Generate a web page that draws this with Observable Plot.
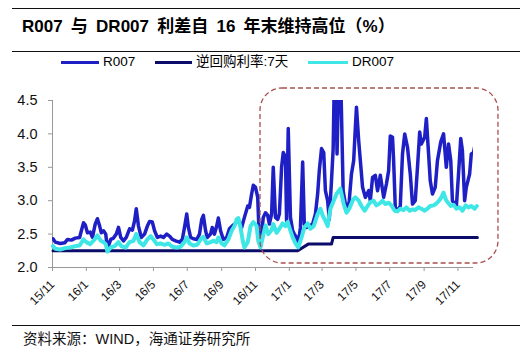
<!DOCTYPE html>
<html><head><meta charset="utf-8">
<script src="https://cdn.jsdelivr.net/npm/d3@7"></script>
<script src="https://cdn.jsdelivr.net/npm/@observablehq/plot@0.6"></script>
<style>
body{margin:0;background:#fff;}
#wrap{position:relative;width:527px;height:357px;overflow:hidden;background:#fff;font-family:"Liberation Sans",Arial,"Noto Sans CJK SC",sans-serif;color:#000;}
.rule{position:absolute;left:12px;width:508px;height:1px;background:#111;}
#title{position:absolute;left:22px;top:17.6px;font-size:17px;font-weight:bold;line-height:17px;white-space:nowrap;word-spacing:3.5px;}
.legline{position:absolute;top:61px;height:3px;}
.legtext{position:absolute;top:55.3px;font-size:13.5px;line-height:13.5px;white-space:nowrap;}
#source{position:absolute;left:23px;top:331.7px;font-size:14.5px;line-height:14.5px;white-space:nowrap;color:#111;}
#chart{position:absolute;left:0;top:80px;}
#chart svg{overflow:visible;}
#chart g[aria-label="y-axis tick label"] text, #chart g[aria-label="y-axis tick label"]{font-size:14.5px !important;}
#chart g[aria-label="x-axis tick label"] text, #chart g[aria-label="x-axis tick label"]{font-size:12px !important;}
#chart g[aria-label="x-axis tick"], #chart g[aria-label="y-axis tick"]{stroke:#999;}
</style>
</head><body>
<div id="wrap">
  <div class="rule" style="top:8px"></div>
  <div id="title">R007 与 DR007 利差自 16 年末维持高位（%）</div>
  <div class="rule" style="top:51px"></div>
  <div id="legend"></div>
  <div id="chart"></div>
  <div class="rule" style="top:325px"></div>
  <div id="source">资料来源：WIND，海通证券研究所</div>
</div>
<script>
const seriesNames = ["R007", "逆回购利率:7天", "DR007"];
const seriesColors = ["#1f1fc6", "#0b0b6a", "#3ee6e6"];

const r007Dates = ["2015-11-02","2015-11-06","2015-11-15","2015-11-23","2015-11-28","2015-12-05","2015-12-12","2015-12-20","2015-12-23","2015-12-27","2015-12-30",
"2016-01-03","2016-01-08","2016-01-12","2016-01-17","2016-01-21","2016-01-25","2016-01-28","2016-02-01","2016-02-05","2016-02-08","2016-02-14","2016-02-19","2016-02-24","2016-02-28",
"2016-03-03","2016-03-08","2016-03-13","2016-03-19","2016-03-24","2016-03-28","2016-03-31","2016-04-04","2016-04-09","2016-04-15","2016-04-20","2016-04-24","2016-04-29",
"2016-05-03","2016-05-08","2016-05-14","2016-05-19","2016-05-25","2016-05-30","2016-06-04","2016-06-10","2016-06-17","2016-06-22","2016-06-26","2016-06-30",
"2016-07-03","2016-07-07","2016-07-12","2016-07-18","2016-07-23","2016-07-27","2016-07-30","2016-08-03","2016-08-06","2016-08-12","2016-08-15","2016-08-19","2016-08-23","2016-08-26","2016-08-30",
"2016-09-04","2016-09-10","2016-09-15","2016-09-21","2016-09-26","2016-10-01","2016-10-07","2016-10-12","2016-10-18","2016-10-21","2016-10-25","2016-10-28",
"2016-11-01","2016-11-05","2016-11-08","2016-11-12","2016-11-15","2016-11-19","2016-11-23","2016-11-26","2016-11-30","2016-12-03","2016-12-07","2016-12-11","2016-12-14","2016-12-18","2016-12-21","2016-12-25","2016-12-27","2016-12-30",
"2017-01-03","2017-01-07","2017-01-10","2017-01-14","2017-01-17","2017-01-21","2017-01-25","2017-01-28","2017-02-01","2017-02-06","2017-02-12","2017-02-17","2017-02-21","2017-02-24","2017-02-28",
"2017-03-04","2017-03-07","2017-03-11","2017-03-14","2017-03-18","2017-03-21","2017-03-23","2017-03-26","2017-03-28","2017-03-31","2017-04-04","2017-04-08","2017-04-12","2017-04-16","2017-04-19","2017-04-23","2017-04-27","2017-04-30",
"2017-05-02","2017-05-06","2017-05-09","2017-05-13","2017-05-18","2017-05-24","2017-05-27","2017-05-31","2017-06-05","2017-06-09","2017-06-14","2017-06-20","2017-06-25","2017-06-29",
"2017-07-02","2017-07-06","2017-07-08","2017-07-11","2017-07-15","2017-07-20","2017-07-24","2017-07-28","2017-08-02","2017-08-07","2017-08-11","2017-08-16","2017-08-20","2017-08-24","2017-08-27",
"2017-09-02","2017-09-05","2017-09-09","2017-09-12","2017-09-16","2017-09-21","2017-09-25","2017-10-01","2017-10-06","2017-10-11","2017-10-15","2017-10-19","2017-10-22","2017-10-26","2017-10-29",
"2017-11-02","2017-11-06","2017-11-09","2017-11-13","2017-11-16","2017-11-22","2017-11-25","2017-11-29","2017-12-02","2017-12-04","2017-12-06"];
const r007Values = [2.43,2.38,2.36,2.37,2.42,2.41,2.44,2.45,2.55,2.67,2.64,
2.52,2.53,2.45,2.65,2.73,2.62,2.52,2.55,2.50,2.28,2.42,2.44,2.50,2.60,
2.45,2.40,2.45,2.58,2.56,2.70,2.88,2.62,2.45,2.50,2.62,2.69,2.68,
2.55,2.45,2.47,2.45,2.50,2.47,2.42,2.40,2.38,2.42,2.60,2.80,
2.60,2.45,2.43,2.42,2.50,2.72,2.78,2.55,2.45,2.50,2.60,2.50,2.62,2.74,2.55,
2.42,2.45,2.58,2.63,2.66,2.72,2.60,2.75,2.92,2.90,3.10,3.23,
3.20,3.05,2.38,2.50,2.75,2.82,2.78,2.65,2.80,3.50,2.75,2.72,2.80,3.50,3.72,3.65,2.70,4.08,
2.75,2.55,2.50,2.45,2.35,2.60,3.58,2.65,2.60,2.62,2.65,2.80,3.10,3.45,3.78,
3.72,3.15,3.00,2.72,3.30,3.78,4.80,4.60,3.70,4.80,4.70,3.15,2.95,2.85,3.00,3.40,3.60,4.10,
4.40,3.90,3.60,3.20,3.05,3.15,3.00,3.35,3.38,3.15,3.38,3.05,3.25,3.45,
3.97,3.95,3.60,2.90,2.85,2.92,3.70,4.00,3.80,3.40,2.95,3.00,3.50,4.03,3.85,
3.95,4.23,3.70,3.30,3.10,3.20,3.60,3.88,4.00,3.50,3.85,3.60,3.00,2.95,2.90,
3.40,3.93,3.75,3.00,3.20,3.40,3.70,3.72,3.85,4.03,3.70];

const dr007Dates = ["2015-11-02","2015-11-06","2015-11-15","2015-11-24","2015-12-03","2015-12-12","2015-12-20","2015-12-27",
"2016-01-01","2016-01-08","2016-01-16","2016-01-21","2016-01-27","2016-02-01","2016-02-05","2016-02-08","2016-02-14","2016-02-21","2016-02-28",
"2016-03-04","2016-03-12","2016-03-19","2016-03-26","2016-03-31","2016-04-06","2016-04-13","2016-04-20","2016-04-26",
"2016-05-01","2016-05-07","2016-05-14","2016-05-21","2016-05-28","2016-06-04","2016-06-12","2016-06-19","2016-06-26","2016-06-30",
"2016-07-05","2016-07-12","2016-07-19","2016-07-25","2016-07-30","2016-08-05","2016-08-12","2016-08-17","2016-08-23","2016-08-26",
"2016-09-01","2016-09-06","2016-09-13","2016-09-19","2016-09-24","2016-09-28","2016-10-01","2016-10-05","2016-10-09","2016-10-12","2016-10-18","2016-10-23","2016-10-28",
"2016-11-03","2016-11-06","2016-11-10","2016-11-14","2016-11-19","2016-11-24","2016-11-30","2016-12-03","2016-12-09","2016-12-14","2016-12-20","2016-12-25","2016-12-29",
"2017-01-03","2017-01-07","2017-01-12","2017-01-17","2017-01-23","2017-01-28","2017-02-03","2017-02-08","2017-02-14","2017-02-21","2017-02-26",
"2017-03-02","2017-03-07","2017-03-11","2017-03-16","2017-03-22","2017-03-27","2017-04-03","2017-04-09","2017-04-14","2017-04-19","2017-04-26","2017-04-30",
"2017-05-06","2017-05-11","2017-05-17","2017-05-22","2017-05-27","2017-06-02","2017-06-07","2017-06-13","2017-06-18","2017-06-23","2017-06-29",
"2017-07-04","2017-07-10","2017-07-15","2017-07-20","2017-07-26","2017-07-31","2017-08-06","2017-08-11","2017-08-16","2017-08-22","2017-08-27",
"2017-09-02","2017-09-07","2017-09-12","2017-09-18","2017-09-22","2017-09-28","2017-10-02","2017-10-06","2017-10-10","2017-10-13","2017-10-19","2017-10-24","2017-10-29",
"2017-11-04","2017-11-09","2017-11-15","2017-11-20","2017-11-25","2017-12-01","2017-12-05"];
const dr007Values = [2.32,2.28,2.27,2.29,2.30,2.32,2.33,2.42,
2.38,2.35,2.42,2.48,2.40,2.38,2.35,2.24,2.30,2.32,2.38,
2.32,2.30,2.38,2.40,2.50,2.38,2.33,2.42,2.47,
2.42,2.35,2.36,2.34,2.36,2.31,2.30,2.31,2.38,2.45,
2.36,2.33,2.34,2.42,2.46,2.36,2.38,2.40,2.38,2.45,
2.36,2.33,2.42,2.55,2.62,2.72,2.74,2.60,2.40,2.30,2.38,2.62,2.68,
2.62,2.40,2.30,2.45,2.63,2.50,2.56,2.65,2.52,2.58,2.66,2.62,2.68,
2.55,2.45,2.36,2.30,2.45,2.60,2.66,2.58,2.62,2.80,2.88,
2.78,2.70,2.62,2.88,3.00,3.10,3.18,2.95,2.82,2.88,3.02,3.05,
3.00,2.92,2.85,2.92,2.98,3.00,2.93,2.96,3.00,2.95,2.97,
2.93,2.85,2.84,2.88,2.86,2.90,2.85,2.87,2.86,2.90,2.88,
2.85,2.88,2.92,2.93,2.95,3.00,3.05,3.12,3.02,2.98,2.92,2.94,2.88,
2.90,2.85,2.93,2.90,2.92,2.88,2.92];

const repoDates = ["2015-11-02","2017-01-16","2017-02-04","2017-03-18","2017-03-21","2017-12-06"];
const repoValues = [2.25,2.25,2.35,2.35,2.45,2.45];

const xTickDates = ["2015-11-01","2016-01-01","2016-03-01","2016-05-01","2016-07-01","2016-09-01","2016-11-01","2017-01-01","2017-03-01","2017-05-01","2017-07-01","2017-09-01","2017-11-01"];
const yTickValues = [2.0, 2.5, 3.0, 3.5, 4.0, 4.5];
const xDomain = ["2015-11-01", "2017-11-29"];
const yDomain = [2.0, 4.5];

// highlighted period (dashed box)
const boxDates = ["2016-11-10", "2018-01-13"];
const boxValues = [2.06, 4.68];

const toRows = (dates, values) => dates.map((d, i) => ({date: new Date(d), value: values[i]}));
const r007 = toRows(r007Dates, r007Values);
const dr007 = toRows(dr007Dates, dr007Values);
const repo = toRows(repoDates, repoValues);
const box = [{x1: new Date(boxDates[0]), x2: new Date(boxDates[1]), y1: boxValues[0], y2: boxValues[1]}];

// legend
const legend = document.getElementById("legend");
const legPos = [[61, 103], [155, 196], [308, 352]];
seriesNames.forEach((name, i) => {
  const ln = document.createElement("div");
  ln.className = "legline";
  ln.style.left = legPos[i][0] + "px";
  ln.style.width = (legPos[i][1] - legPos[i][0] - 4) + "px";
  ln.style.background = seriesColors[i];
  legend.appendChild(ln);
  const tx = document.createElement("div");
  tx.className = "legtext";
  tx.style.left = legPos[i][1] + "px";
  tx.textContent = name;
  legend.appendChild(tx);
});

const chart = Plot.plot({
  width: 527,
  height: 245,
  marginLeft: 52,
  marginRight: 54,
  marginTop: 20,
  marginBottom: 58,
  style: {fontFamily: '"Liberation Sans", Arial, sans-serif', fontSize: "12px", color: "#111", background: "transparent", overflow: "visible"},
  x: {
    type: "utc",
    domain: xDomain.map(d => new Date(d)),
    ticks: xTickDates.map(d => new Date(d)),
    tickFormat: d => `${String(d.getUTCFullYear()).slice(2)}/${d.getUTCMonth() + 1}`,
    tickRotate: -45,
    tickSize: 4,
    tickPadding: 11,
    label: null
  },
  y: {
    domain: yDomain,
    ticks: yTickValues,
    tickFormat: d => d.toFixed(1),
    tickSize: 4,
    tickPadding: 11,
    label: null
  },
  marks: [
    Plot.ruleX([new Date(xDomain[0])], {stroke: "#999"}),
    Plot.ruleY([yDomain[0]], {stroke: "#999"}),
    Plot.line(r007, {x: "date", y: "value", stroke: seriesColors[0], strokeWidth: 3.5, clip: true}),
    Plot.line(repo, {x: "date", y: "value", stroke: seriesColors[1], strokeWidth: 3}),
    Plot.line(dr007, {x: "date", y: "value", stroke: seriesColors[2], strokeWidth: 4}),
    Plot.rect(box, {x1: "x1", x2: "x2", y1: "y1", y2: "y2", fill: "none", stroke: "#a8504c", strokeWidth: 1.3, strokeDasharray: "5,3", rx: 22, ry: 22})
  ]
});
document.getElementById("chart").appendChild(chart);
</script>
</body></html>
